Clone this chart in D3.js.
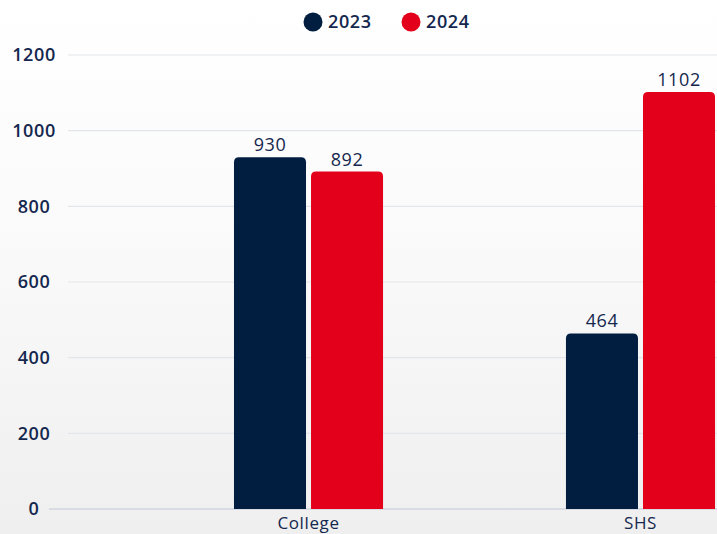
<!DOCTYPE html>
<html>
<head>
<meta charset="utf-8">
<script src="https://cdn.jsdelivr.net/npm/d3@7"></script>
<style>
  body { margin: 0; overflow: hidden; }
  svg { display: block; font-family: "Open Sans", sans-serif; }
</style>
</head>
<body>
<div id="chart"></div>
<script>
var categories = ["College", "SHS"];
var years = ["2023", "2024"];
var values2023 = [930, 464];
var values2024 = [892, 1102];
var yTicks = [0, 200, 400, 600, 800, 1000, 1200];

var width = 717,
    height = 534;

var colors = d3.scaleOrdinal()
    .domain(years)
    .range(["#011e41", "#e3001b"]);

var textColor = "#14274e";

var svg = d3.select("#chart")
    .append("svg")
    .attr("width", width)
    .attr("height", height);

// soft background fade
var grad = svg.append("defs").append("linearGradient")
    .attr("id", "bg")
    .attr("x1", 0).attr("y1", 0).attr("x2", 0).attr("y2", 1);
grad.append("stop").attr("offset", "0%").attr("stop-color", "#ffffff");
grad.append("stop").attr("offset", "45%").attr("stop-color", "#fafafa");
grad.append("stop").attr("offset", "100%").attr("stop-color", "#efefef");

svg.append("rect")
    .attr("width", width)
    .attr("height", height)
    .attr("fill", "url(#bg)");

var y = d3.scaleLinear()
    .domain([0, 1200])
    .range([509, 55]);

var x0 = d3.scaleBand()
    .domain(categories)
    .range([68, 881])
    .paddingInner(0.551)
    .paddingOuter(0.5);

var x1 = d3.scaleBand()
    .domain(years)
    .range([0, x0.bandwidth()])
    .paddingInner(0.065);

// grid
svg.append("g")
    .selectAll("line")
    .data(yTicks)
    .enter()
    .append("line")
    .attr("x1", d => d === 0 ? 49 : 68)
    .attr("x2", width)
    .attr("y1", d => y(d))
    .attr("y2", d => y(d))
    .attr("stroke", d => d === 0 ? "#d9dce2" : "#e2e5ea")
    .attr("stroke-width", d => d === 0 ? 2 : 1.2);

// y labels
svg.append("g")
    .selectAll("text")
    .data(yTicks)
    .enter()
    .append("text")
    .attr("x", 34)
    .attr("y", d => y(d))
    .attr("dy", "0.35em")
    .attr("text-anchor", "middle")
    .attr("font-size", "18px")
    .attr("font-weight", 600)
    .attr("letter-spacing", "0.6px")
    .attr("fill", textColor)
    .text(d => d);

var rows = [];
categories.forEach(function (c, i) {
    rows.push({ cat: c, year: "2023", value: values2023[i] });
    rows.push({ cat: c, year: "2024", value: values2024[i] });
});

function topRounded(x, yTop, w, h, r) {
    return "M" + x + "," + (yTop + h) +
        "V" + (yTop + r) +
        "Q" + x + "," + yTop + " " + (x + r) + "," + yTop +
        "H" + (x + w - r) +
        "Q" + (x + w) + "," + yTop + " " + (x + w) + "," + (yTop + r) +
        "V" + (yTop + h) + "Z";
}

var bars = svg.append("g")
    .selectAll("g")
    .data(rows)
    .enter()
    .append("g");

bars.append("path")
    .attr("d", d => topRounded(x0(d.cat) + x1(d.year), y(d.value), x1.bandwidth(), y(0) - y(d.value), 5))
    .attr("fill", d => colors(d.year));

bars.append("text")
    .attr("x", d => x0(d.cat) + x1(d.year) + x1.bandwidth() / 2)
    .attr("y", d => y(d.value) - 6)
    .attr("text-anchor", "middle")
    .attr("font-size", "18px")
    .attr("font-weight", 500)
    .attr("letter-spacing", "0.6px")
    .attr("fill", textColor)
    .text(d => d.value);

// x labels (sit at the bottom edge)
svg.append("g")
    .selectAll("text")
    .data(categories)
    .enter()
    .append("text")
    .attr("x", d => x0(d) + x0.bandwidth() / 2)
    .attr("y", 529)
    .attr("text-anchor", "middle")
    .attr("font-size", "17px")
    .attr("font-weight", 500)
    .attr("letter-spacing", "0.6px")
    .attr("fill", textColor)
    .text(d => d);

// legend
var legendX = [313, 411];
var legend = svg.append("g")
    .selectAll("g")
    .data(years)
    .enter()
    .append("g")
    .attr("transform", (d, i) => "translate(" + legendX[i] + ",22)");

legend.append("circle")
    .attr("r", 9.5)
    .attr("fill", d => colors(d));

legend.append("text")
    .attr("x", 15)
    .attr("dy", "0.35em")
    .attr("font-size", "18px")
    .attr("font-weight", 600)
    .attr("letter-spacing", "0.6px")
    .attr("fill", textColor)
    .text(d => d);
</script>
</body>
</html>
